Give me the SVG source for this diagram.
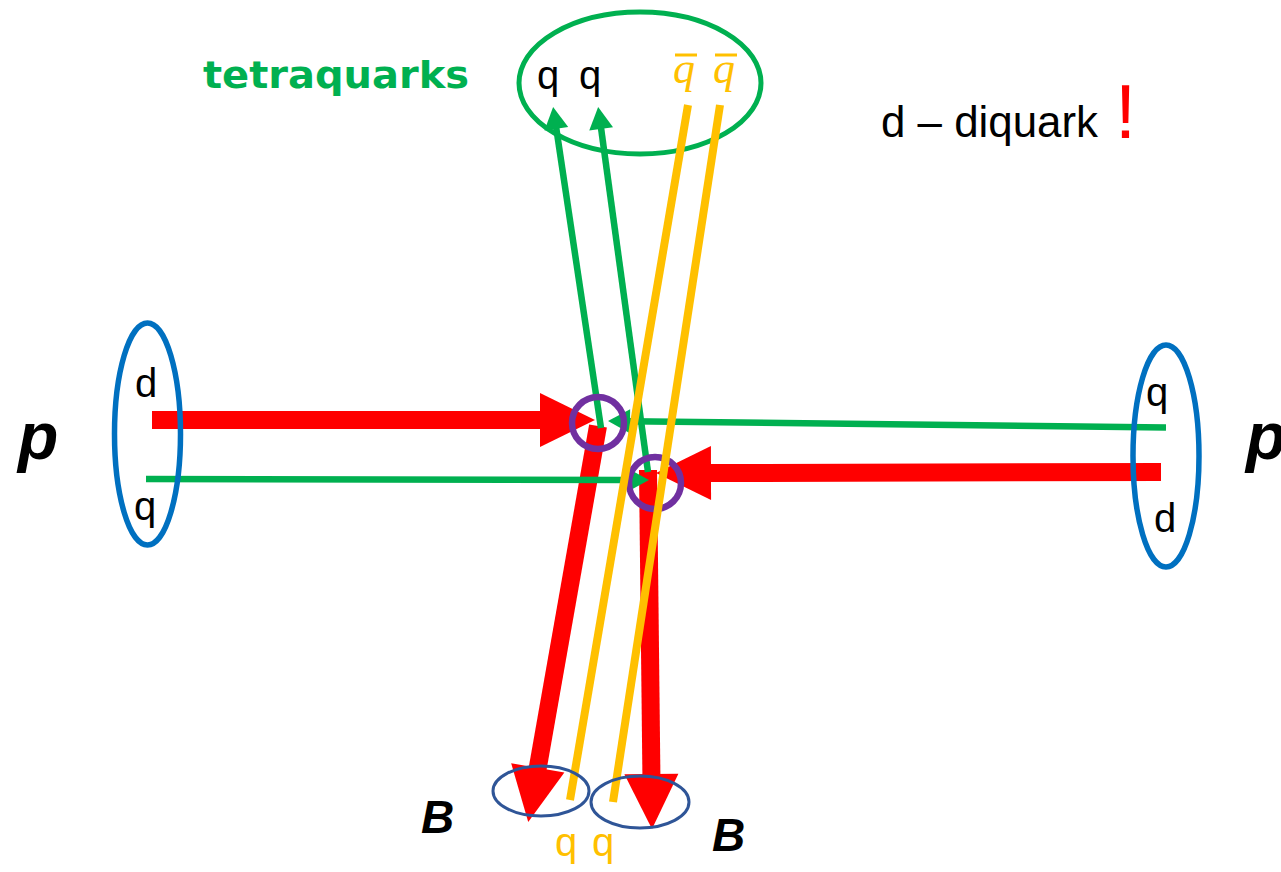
<svg xmlns="http://www.w3.org/2000/svg" width="1281" height="872" viewBox="0 0 1281 872">
<defs>
<style>
.red{stroke:#FF0000;stroke-width:18;fill:none}
.grn{stroke:#00B050;stroke-width:6.5;fill:none}
.yel{stroke:#FFC000;stroke-width:8;fill:none}
.pur{stroke:#7030A0;stroke-width:6.5;fill:none}
.blu{stroke:#0070C0;stroke-width:5.5;fill:none}
.dblu{stroke:#2F5597;stroke-width:3;fill:none}
.lbl{font-family:"Liberation Sans",Arial,sans-serif;font-size:40px;fill:#000}
.big{font-family:"Liberation Sans",Arial,sans-serif;font-weight:bold;font-style:italic;fill:#000}
.qbar{font-family:"Liberation Serif","Times New Roman",serif;font-style:italic;font-size:44px;fill:#FFC000}
</style>
<marker id="redHead" markerUnits="userSpaceOnUse" markerWidth="56" markerHeight="54" refX="1" refY="27" orient="auto" overflow="visible">
<path d="M0,0 L55,27 L0,54 z" fill="#FF0000"/>
</marker>
<marker id="grnHead" markerUnits="userSpaceOnUse" markerWidth="23" markerHeight="24" refX="1" refY="12" orient="auto" overflow="visible">
<path d="M0,0 L22,12 L0,24 z" fill="#00B050"/>
</marker>
</defs>
<rect width="1281" height="872" fill="#fff"/>

<g id="connectors">
<line class="red" x1="152" y1="420" x2="541" y2="420" marker-end="url(#redHead)"/>
<line class="red" x1="1161" y1="472" x2="710" y2="473" marker-end="url(#redHead)"/>
<line class="red" x1="598" y1="426" x2="537.6" y2="768.8" marker-end="url(#redHead)"/>
<line class="red" x1="648" y1="470" x2="651.4" y2="775" marker-end="url(#redHead)"/>
<line class="grn" x1="601" y1="428" x2="556.2" y2="127.8" marker-end="url(#grnHead)"/>
<line class="grn" x1="648" y1="472" x2="601" y2="127.8" marker-end="url(#grnHead)"/>
<line class="grn" x1="1166" y1="427.5" x2="629" y2="421.2" marker-end="url(#grnHead)"/>
<line class="grn" x1="146" y1="479" x2="628" y2="480" marker-end="url(#grnHead)"/>
</g>

<g id="vertex1"><circle class="pur" cx="598" cy="423" r="26"/></g>
<g id="vertex2"><circle class="pur" cx="655" cy="483" r="26"/></g>

<g id="tetraquark">
<ellipse cx="640" cy="83" rx="121" ry="71" fill="none" stroke="#00B050" stroke-width="5"/>
<text class="lbl" x="537" y="89">q</text>
<text class="lbl" x="579" y="89">q</text>
<text class="qbar" x="673" y="83">q</text>
<text class="qbar" x="713" y="83">q</text>
<line x1="675" y1="55" x2="697" y2="55" stroke="#FFC000" stroke-width="3"/>
<line x1="715" y1="55" x2="737" y2="55" stroke="#FFC000" stroke-width="3"/>
</g>

<g id="antiquarks">
<line class="yel" x1="688" y1="105" x2="570" y2="800"/>
<line class="yel" x1="720" y1="105" x2="613" y2="802"/>
</g>

<g id="protonLeft">
<ellipse class="blu" cx="147.5" cy="434" rx="33" ry="111"/>
<text class="lbl" x="135" y="397">d</text>
<text class="lbl" x="134" y="520">q</text>
<text class="big" x="18" y="459" font-size="66">p</text>
</g>

<g id="protonRight">
<ellipse class="blu" cx="1166" cy="456" rx="33" ry="111"/>
<text class="lbl" x="1146" y="406">q</text>
<text class="lbl" x="1154" y="532">d</text>
<text class="big" x="1246" y="459" font-size="66">p</text>
</g>

<g id="mesonLeft">
<ellipse class="dblu" cx="541" cy="791" rx="48" ry="25"/>
<text class="big" x="421" y="833" font-size="46">B</text>
</g>
<g id="mesonRight">
<ellipse class="dblu" cx="640" cy="802" rx="49" ry="26"/>
<text class="big" x="712" y="851" font-size="46">B</text>
</g>

<g id="bottomQuarks">
<text class="lbl" x="555" y="856" style="fill:#FFC000">q</text>
<text class="lbl" x="592" y="856" style="fill:#FFC000">q</text>
</g>

<g id="titles">
<text x="203" y="88" font-family="'Comic Sans MS','DejaVu Sans',sans-serif" font-weight="bold" font-size="38" fill="#00B050" textLength="266" lengthAdjust="spacingAndGlyphs">tetraquarks</text>
<text class="lbl" x="881" y="137" style="font-size:45px" textLength="217" lengthAdjust="spacingAndGlyphs">d – diquark</text>
<text x="1115" y="138" font-family="'Liberation Sans',Arial,sans-serif" font-size="76" fill="#FF0000">!</text>
</g>
</svg>
